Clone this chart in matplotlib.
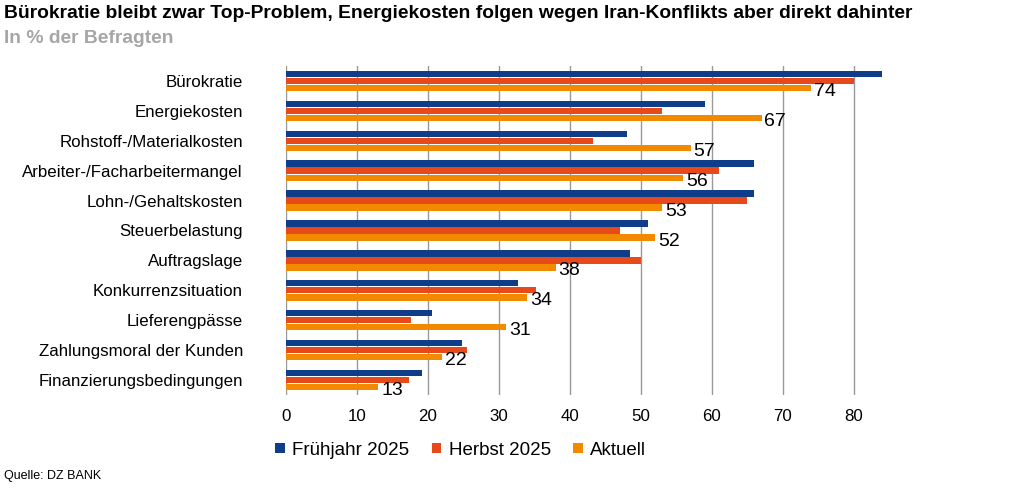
import numpy as np
import matplotlib.pyplot as plt

plt.rcParams['font.family'] = ['Liberation Sans', 'DejaVu Sans']

categories = ['Bürokratie', 'Energiekosten', 'Rohstoff-/Materialkosten',
              'Arbeiter-/Facharbeitermangel', 'Lohn-/Gehaltskosten',
              'Steuerbelastung', 'Auftragslage', 'Konkurrenzsituation',
              'Lieferengpässe', 'Zahlungsmoral der Kunden',
              'Finanzierungsbedingungen']
fruehjahr = [84, 59, 48, 66, 66, 51, 48.5, 32.7, 20.6, 24.8, 19.1]
herbst = [80, 53, 43.3, 61, 65, 47, 50, 35.2, 17.6, 25.5, 17.3]
aktuell = [74, 67, 57, 56, 53, 52, 38, 34, 31, 22, 13]
series = ['Frühjahr 2025', 'Herbst 2025', 'Aktuell']
colors = ['#103D8A', '#E8491A', '#F28A00']

fig = plt.figure(figsize=(10.31, 4.93), dpi=100)
ax = fig.add_axes([0.2774, 0.199, 0.592, 0.667])

y = np.arange(len(categories))
h = 0.235
for i, (vals, lab, c) in enumerate(zip([fruehjahr, herbst, aktuell], series, colors)):
    ax.barh(y + (i - 1) * h, vals, height=h - 0.02, color=c, label=lab, zorder=3)

# labels for the current values
for yi, v in zip(y, aktuell):
    ax.text(v + 0.4, yi + h + 0.12, f'{v:.0f}', fontsize=14, ha='left', va='center', zorder=4)

ax.set_xlim(0, 86)
ax.set_ylim(len(categories) - 0.5, -0.5)
ax.set_xticks(range(0, 81, 10))
ax.set_yticks(y)
ax.set_yticklabels(categories, fontsize=12.2)
ax.tick_params(axis='x', labelsize=12.2, length=0, pad=10)
ax.tick_params(axis='y', length=0, pad=31)
ax.grid(axis='x', color='#999999', linewidth=1, zorder=0)
for s in ax.spines.values():
    s.set_visible(False)

fig.text(0.004, 0.972, 'Bürokratie bleibt zwar Top-Problem, Energiekosten folgen wegen Iran-Konflikts aber direkt dahinter',
         fontsize=13.9, fontweight='bold', va='center')
fig.text(0.004, 0.922, 'In % der Befragten', fontsize=13.9, fontweight='bold', color='#A6A6A6', va='center')
fig.text(0.004, 0.035, 'Quelle: DZ BANK', fontsize=9, va='center')

fig.legend(loc='center', bbox_to_anchor=(0.447, 0.087), ncol=3, frameon=False, fontsize=13.5,
           handlelength=0.5, handleheight=0.5, handletextpad=0.4, columnspacing=1.2)

fig.savefig('out.png', dpi=100)
